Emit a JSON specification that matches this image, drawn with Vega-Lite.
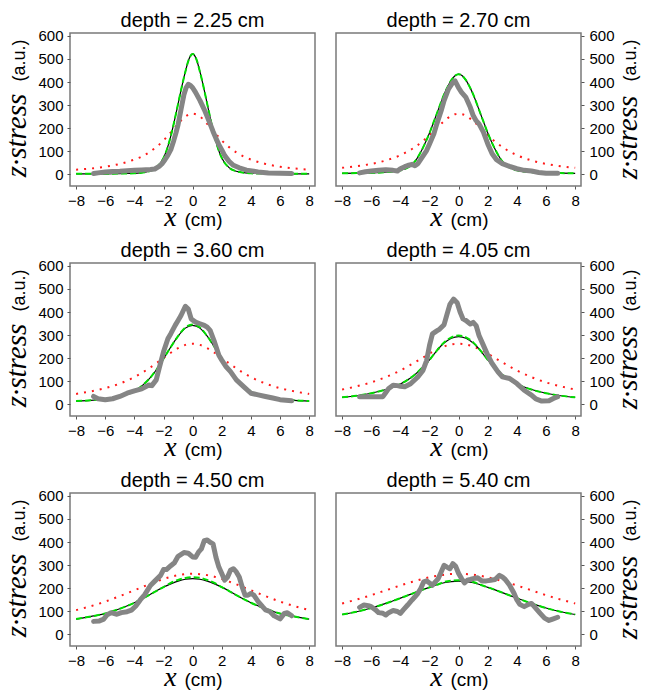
{
"$schema":"https://vega.github.io/schema/vega-lite/v6.json",
"padding":{"left":1,"top":10,"right":2,"bottom":2},
"background":"white",
"datasets":{
"fit":[
{"d":"2.25","x":-8,"k":1,"g":1,"r":19},{"d":"2.25","x":-7,"k":1,"g":1,"r":24},{"d":"2.25","x":-6,"k":1,"g":1,"r":32},{"d":"2.25","x":-5,"k":2,"g":2,"r":44},{"d":"2.25","x":-4,"k":3,"g":3,"r":63},{"d":"2.25","x":-3.5,"k":6,"g":6,"r":76},{"d":"2.25","x":-3,"k":12,"g":12,"r":94},{"d":"2.25","x":-2.5,"k":28,"g":28,"r":117},{"d":"2.25","x":-2,"k":70,"g":70,"r":146},{"d":"2.25","x":-1.75,"k":110,"g":110,"r":163},{"d":"2.25","x":-1.5,"k":165,"g":165,"r":181},{"d":"2.25","x":-1.25,"k":232,"g":232,"r":200},{"d":"2.25","x":-1,"k":305,"g":305,"r":218},{"d":"2.25","x":-0.75,"k":378,"g":378,"r":236},{"d":"2.25","x":-0.5,"k":445,"g":445,"r":250},{"d":"2.25","x":-0.25,"k":500,"g":500,"r":259},{"d":"2.25","x":0,"k":522,"g":522,"r":262},{"d":"2.25","x":0.25,"k":500,"g":500,"r":259},{"d":"2.25","x":0.5,"k":445,"g":445,"r":250},{"d":"2.25","x":0.75,"k":378,"g":378,"r":236},{"d":"2.25","x":1,"k":305,"g":305,"r":218},{"d":"2.25","x":1.25,"k":232,"g":232,"r":200},{"d":"2.25","x":1.5,"k":165,"g":165,"r":181},{"d":"2.25","x":1.75,"k":110,"g":110,"r":163},{"d":"2.25","x":2,"k":70,"g":70,"r":146},{"d":"2.25","x":2.5,"k":28,"g":28,"r":117},{"d":"2.25","x":3,"k":12,"g":12,"r":94},{"d":"2.25","x":3.5,"k":6,"g":6,"r":76},{"d":"2.25","x":4,"k":3,"g":3,"r":63},{"d":"2.25","x":5,"k":2,"g":2,"r":44},{"d":"2.25","x":6,"k":1,"g":1,"r":32},{"d":"2.25","x":7,"k":1,"g":1,"r":24},{"d":"2.25","x":8,"k":1,"g":1,"r":19},
{"d":"2.70","x":-8,"k":3,"g":3,"r":27},{"d":"2.70","x":-7,"k":4,"g":4,"r":34},{"d":"2.70","x":-6,"k":5,"g":5,"r":44},{"d":"2.70","x":-5,"k":8,"g":8,"r":59},{"d":"2.70","x":-4,"k":16,"g":16,"r":82},{"d":"2.70","x":-3.5,"k":28,"g":28,"r":98},{"d":"2.70","x":-3,"k":55,"g":55,"r":117},{"d":"2.70","x":-2.5,"k":108,"g":108,"r":141},{"d":"2.70","x":-2,"k":178,"g":178,"r":169},{"d":"2.70","x":-1.75,"k":220,"g":220,"r":184},{"d":"2.70","x":-1.5,"k":262,"g":262,"r":200},{"d":"2.70","x":-1.25,"k":305,"g":305,"r":216},{"d":"2.70","x":-1,"k":346,"g":346,"r":230},{"d":"2.70","x":-0.75,"k":380,"g":380,"r":243},{"d":"2.70","x":-0.5,"k":408,"g":408,"r":253},{"d":"2.70","x":-0.25,"k":427,"g":427,"r":260},{"d":"2.70","x":0,"k":434,"g":434,"r":262},{"d":"2.70","x":0.25,"k":427,"g":427,"r":260},{"d":"2.70","x":0.5,"k":408,"g":408,"r":253},{"d":"2.70","x":0.75,"k":380,"g":380,"r":243},{"d":"2.70","x":1,"k":346,"g":346,"r":230},{"d":"2.70","x":1.25,"k":305,"g":305,"r":216},{"d":"2.70","x":1.5,"k":262,"g":262,"r":200},{"d":"2.70","x":1.75,"k":220,"g":220,"r":184},{"d":"2.70","x":2,"k":178,"g":178,"r":169},{"d":"2.70","x":2.5,"k":108,"g":108,"r":141},{"d":"2.70","x":3,"k":55,"g":55,"r":117},{"d":"2.70","x":3.5,"k":28,"g":28,"r":98},{"d":"2.70","x":4,"k":16,"g":16,"r":82},{"d":"2.70","x":5,"k":8,"g":8,"r":59},{"d":"2.70","x":6,"k":5,"g":5,"r":44},{"d":"2.70","x":7,"k":4,"g":4,"r":34},{"d":"2.70","x":8,"k":3,"g":3,"r":27},
{"d":"3.60","x":-8,"k":13,"g":13,"r":44},{"d":"3.60","x":-7,"k":16,"g":16,"r":55},{"d":"3.60","x":-6,"k":22,"g":22,"r":69},{"d":"3.60","x":-5,"k":33,"g":33,"r":89},{"d":"3.60","x":-4,"k":56,"g":56,"r":117},{"d":"3.60","x":-3.5,"k":78,"g":78,"r":135},{"d":"3.60","x":-3,"k":108,"g":108,"r":155},{"d":"3.60","x":-2.5,"k":148,"g":148,"r":177},{"d":"3.60","x":-2,"k":197,"g":197,"r":200},{"d":"3.60","x":-1.5,"k":248,"g":248,"r":223},{"d":"3.60","x":-1,"k":295,"g":295,"r":243},{"d":"3.60","x":-0.5,"k":330,"g":333,"r":257},{"d":"3.60","x":0,"k":342,"g":346,"r":262},{"d":"3.60","x":0.5,"k":330,"g":333,"r":257},{"d":"3.60","x":1,"k":295,"g":295,"r":243},{"d":"3.60","x":1.5,"k":248,"g":248,"r":223},{"d":"3.60","x":2,"k":197,"g":197,"r":200},{"d":"3.60","x":2.5,"k":148,"g":148,"r":177},{"d":"3.60","x":3,"k":108,"g":108,"r":155},{"d":"3.60","x":3.5,"k":78,"g":78,"r":135},{"d":"3.60","x":4,"k":56,"g":56,"r":117},{"d":"3.60","x":5,"k":33,"g":33,"r":89},{"d":"3.60","x":6,"k":22,"g":22,"r":69},{"d":"3.60","x":7,"k":16,"g":16,"r":55},{"d":"3.60","x":8,"k":13,"g":13,"r":44},
{"d":"4.05","x":-8,"k":29,"g":29,"r":63},{"d":"4.05","x":-7,"k":36,"g":36,"r":77},{"d":"4.05","x":-6,"k":47,"g":47,"r":94},{"d":"4.05","x":-5,"k":63,"g":63,"r":117},{"d":"4.05","x":-4,"k":87,"g":87,"r":146},{"d":"4.05","x":-3.5,"k":105,"g":105,"r":163},{"d":"4.05","x":-3,"k":128,"g":128,"r":181},{"d":"4.05","x":-2.5,"k":158,"g":158,"r":200},{"d":"4.05","x":-2,"k":192,"g":192,"r":219},{"d":"4.05","x":-1.5,"k":232,"g":232,"r":236},{"d":"4.05","x":-1,"k":265,"g":268,"r":250},{"d":"4.05","x":-0.5,"k":286,"g":290,"r":259},{"d":"4.05","x":0,"k":293,"g":298,"r":262},{"d":"4.05","x":0.5,"k":286,"g":290,"r":259},{"d":"4.05","x":1,"k":265,"g":268,"r":250},{"d":"4.05","x":1.5,"k":232,"g":232,"r":236},{"d":"4.05","x":2,"k":192,"g":192,"r":219},{"d":"4.05","x":2.5,"k":158,"g":158,"r":200},{"d":"4.05","x":3,"k":128,"g":128,"r":181},{"d":"4.05","x":3.5,"k":105,"g":105,"r":163},{"d":"4.05","x":4,"k":87,"g":87,"r":146},{"d":"4.05","x":5,"k":63,"g":63,"r":117},{"d":"4.05","x":6,"k":47,"g":47,"r":94},{"d":"4.05","x":7,"k":36,"g":36,"r":77},{"d":"4.05","x":8,"k":29,"g":29,"r":63},
{"d":"4.50","x":-8,"k":65,"g":65,"r":104},{"d":"4.50","x":-7,"k":76,"g":76,"r":121},{"d":"4.50","x":-6,"k":89,"g":89,"r":141},{"d":"4.50","x":-5,"k":110,"g":110,"r":165},{"d":"4.50","x":-4,"k":136,"g":136,"r":190},{"d":"4.50","x":-3.5,"k":152,"g":152,"r":203},{"d":"4.50","x":-3,"k":169,"g":169,"r":216},{"d":"4.50","x":-2.5,"k":187,"g":187,"r":228},{"d":"4.50","x":-2,"k":204,"g":204,"r":239},{"d":"4.50","x":-1.5,"k":218,"g":222,"r":249},{"d":"4.50","x":-1,"k":230,"g":235,"r":256},{"d":"4.50","x":-0.5,"k":238,"g":244,"r":260},{"d":"4.50","x":0,"k":241,"g":247,"r":262},{"d":"4.50","x":0.5,"k":238,"g":244,"r":260},{"d":"4.50","x":1,"k":230,"g":235,"r":256},{"d":"4.50","x":1.5,"k":218,"g":222,"r":249},{"d":"4.50","x":2,"k":204,"g":204,"r":239},{"d":"4.50","x":2.5,"k":187,"g":187,"r":228},{"d":"4.50","x":3,"k":169,"g":169,"r":216},{"d":"4.50","x":3.5,"k":152,"g":152,"r":203},{"d":"4.50","x":4,"k":136,"g":136,"r":190},{"d":"4.50","x":5,"k":110,"g":110,"r":165},{"d":"4.50","x":6,"k":89,"g":89,"r":141},{"d":"4.50","x":7,"k":76,"g":76,"r":121},{"d":"4.50","x":8,"k":65,"g":65,"r":104},
{"d":"5.40","x":-8,"k":85,"g":85,"r":133},{"d":"5.40","x":-7,"k":97,"g":97,"r":150},{"d":"5.40","x":-6,"k":113,"g":113,"r":169},{"d":"5.40","x":-5,"k":133,"g":133,"r":190},{"d":"5.40","x":-4,"k":156,"g":156,"r":211},{"d":"5.40","x":-3.5,"k":168,"g":168,"r":221},{"d":"5.40","x":-3,"k":180,"g":180,"r":230},{"d":"5.40","x":-2.5,"k":192,"g":192,"r":239},{"d":"5.40","x":-2,"k":203,"g":203,"r":247},{"d":"5.40","x":-1.5,"k":214,"g":214,"r":253},{"d":"5.40","x":-1,"k":223,"g":226,"r":258},{"d":"5.40","x":-0.5,"k":228,"g":232,"r":261},{"d":"5.40","x":0,"k":230,"g":234,"r":262},{"d":"5.40","x":0.5,"k":228,"g":232,"r":261},{"d":"5.40","x":1,"k":223,"g":226,"r":258},{"d":"5.40","x":1.5,"k":214,"g":214,"r":253},{"d":"5.40","x":2,"k":203,"g":203,"r":247},{"d":"5.40","x":2.5,"k":192,"g":192,"r":239},{"d":"5.40","x":3,"k":180,"g":180,"r":230},{"d":"5.40","x":3.5,"k":168,"g":168,"r":221},{"d":"5.40","x":4,"k":156,"g":156,"r":211},{"d":"5.40","x":5,"k":133,"g":133,"r":190},{"d":"5.40","x":6,"k":113,"g":113,"r":169},{"d":"5.40","x":7,"k":97,"g":97,"r":150},{"d":"5.40","x":8,"k":85,"g":85,"r":133}
],
"meas":[
{"d":"2.25","x":-6.8,"y":2},{"d":"2.25","x":-6.5,"y":5},{"d":"2.25","x":-6,"y":9},{"d":"2.25","x":-5.5,"y":11},{"d":"2.25","x":-5,"y":12},{"d":"2.25","x":-4.5,"y":14},{"d":"2.25","x":-4,"y":16},{"d":"2.25","x":-3.5,"y":18},{"d":"2.25","x":-3.2,"y":19},{"d":"2.25","x":-2.9,"y":20},{"d":"2.25","x":-2.6,"y":22},{"d":"2.25","x":-2.3,"y":33},{"d":"2.25","x":-2.1,"y":45},{"d":"2.25","x":-1.9,"y":62},{"d":"2.25","x":-1.7,"y":82},{"d":"2.25","x":-1.5,"y":106},{"d":"2.25","x":-1.3,"y":145},{"d":"2.25","x":-1.15,"y":178},{"d":"2.25","x":-1,"y":215},{"d":"2.25","x":-0.8,"y":280},{"d":"2.25","x":-0.6,"y":345},{"d":"2.25","x":-0.45,"y":375},{"d":"2.25","x":-0.3,"y":390},{"d":"2.25","x":-0.15,"y":385},{"d":"2.25","x":0,"y":375},{"d":"2.25","x":0.2,"y":355},{"d":"2.25","x":0.5,"y":320},{"d":"2.25","x":0.8,"y":280},{"d":"2.25","x":1,"y":250},{"d":"2.25","x":1.2,"y":218},{"d":"2.25","x":1.4,"y":185},{"d":"2.25","x":1.6,"y":155},{"d":"2.25","x":1.8,"y":128},{"d":"2.25","x":2,"y":105},{"d":"2.25","x":2.2,"y":80},{"d":"2.25","x":2.5,"y":55},{"d":"2.25","x":2.8,"y":38},{"d":"2.25","x":3.2,"y":27},{"d":"2.25","x":3.7,"y":17},{"d":"2.25","x":4.5,"y":9},{"d":"2.25","x":5.2,"y":5},{"d":"2.25","x":6,"y":3},{"d":"2.25","x":6.8,"y":2},
{"d":"2.70","x":-6.8,"y":5},{"d":"2.70","x":-6.4,"y":10},{"d":"2.70","x":-6,"y":13},{"d":"2.70","x":-5.5,"y":16},{"d":"2.70","x":-5,"y":19},{"d":"2.70","x":-4.5,"y":16},{"d":"2.70","x":-4.2,"y":13},{"d":"2.70","x":-4,"y":23},{"d":"2.70","x":-3.7,"y":32},{"d":"2.70","x":-3.5,"y":37},{"d":"2.70","x":-3.2,"y":42},{"d":"2.70","x":-3,"y":36},{"d":"2.70","x":-2.8,"y":45},{"d":"2.70","x":-2.5,"y":74},{"d":"2.70","x":-2.2,"y":102},{"d":"2.70","x":-2,"y":131},{"d":"2.70","x":-1.7,"y":175},{"d":"2.70","x":-1.5,"y":218},{"d":"2.70","x":-1.2,"y":275},{"d":"2.70","x":-1,"y":319},{"d":"2.70","x":-0.7,"y":369},{"d":"2.70","x":-0.4,"y":398},{"d":"2.70","x":-0.25,"y":405},{"d":"2.70","x":0,"y":374},{"d":"2.70","x":0.2,"y":355},{"d":"2.70","x":0.5,"y":333},{"d":"2.70","x":0.8,"y":290},{"d":"2.70","x":1,"y":254},{"d":"2.70","x":1.2,"y":232},{"d":"2.70","x":1.4,"y":218},{"d":"2.70","x":1.7,"y":182},{"d":"2.70","x":2,"y":131},{"d":"2.70","x":2.3,"y":88},{"d":"2.70","x":2.6,"y":62},{"d":"2.70","x":3,"y":45},{"d":"2.70","x":3.5,"y":33},{"d":"2.70","x":4,"y":23},{"d":"2.70","x":4.5,"y":16},{"d":"2.70","x":5,"y":13},{"d":"2.70","x":5.5,"y":7},{"d":"2.70","x":6,"y":3},{"d":"2.70","x":6.8,"y":3},
{"d":"3.60","x":-6.8,"y":33},{"d":"3.60","x":-6.5,"y":23},{"d":"3.60","x":-6,"y":19},{"d":"3.60","x":-5.5,"y":23},{"d":"3.60","x":-5,"y":33},{"d":"3.60","x":-4.5,"y":47},{"d":"3.60","x":-4,"y":57},{"d":"3.60","x":-3.5,"y":66},{"d":"3.60","x":-3,"y":83},{"d":"3.60","x":-2.8,"y":80},{"d":"3.60","x":-2.5,"y":105},{"d":"3.60","x":-2.3,"y":155},{"d":"3.60","x":-2,"y":227},{"d":"3.60","x":-1.7,"y":284},{"d":"3.60","x":-1.5,"y":306},{"d":"3.60","x":-1.2,"y":342},{"d":"3.60","x":-1,"y":363},{"d":"3.60","x":-0.8,"y":385},{"d":"3.60","x":-0.5,"y":425},{"d":"3.60","x":-0.3,"y":413},{"d":"3.60","x":-0.1,"y":370},{"d":"3.60","x":0.2,"y":356},{"d":"3.60","x":0.5,"y":349},{"d":"3.60","x":0.8,"y":342},{"d":"3.60","x":1,"y":334},{"d":"3.60","x":1.2,"y":320},{"d":"3.60","x":1.5,"y":270},{"d":"3.60","x":1.8,"y":212},{"d":"3.60","x":2,"y":191},{"d":"3.60","x":2.3,"y":162},{"d":"3.60","x":2.6,"y":141},{"d":"3.60","x":3,"y":105},{"d":"3.60","x":3.5,"y":76},{"d":"3.60","x":4,"y":47},{"d":"3.60","x":4.5,"y":40},{"d":"3.60","x":5,"y":33},{"d":"3.60","x":5.5,"y":26},{"d":"3.60","x":6,"y":19},{"d":"3.60","x":6.8,"y":14},
{"d":"4.05","x":-6.8,"y":32},{"d":"4.05","x":-6,"y":32},{"d":"4.05","x":-5.2,"y":32},{"d":"4.05","x":-5,"y":50},{"d":"4.05","x":-4.8,"y":68},{"d":"4.05","x":-4.5,"y":82},{"d":"4.05","x":-4.2,"y":80},{"d":"4.05","x":-4,"y":77},{"d":"4.05","x":-3.7,"y":75},{"d":"4.05","x":-3.3,"y":88},{"d":"4.05","x":-2.8,"y":118},{"d":"4.05","x":-2.45,"y":146},{"d":"4.05","x":-2.2,"y":189},{"d":"4.05","x":-2,"y":255},{"d":"4.05","x":-1.8,"y":305},{"d":"4.05","x":-1.5,"y":318},{"d":"4.05","x":-1.3,"y":326},{"d":"4.05","x":-1,"y":345},{"d":"4.05","x":-0.8,"y":390},{"d":"4.05","x":-0.6,"y":433},{"d":"4.05","x":-0.35,"y":456},{"d":"4.05","x":-0.1,"y":440},{"d":"4.05","x":0.1,"y":400},{"d":"4.05","x":0.3,"y":370},{"d":"4.05","x":0.5,"y":363},{"d":"4.05","x":0.8,"y":348},{"d":"4.05","x":1,"y":355},{"d":"4.05","x":1.2,"y":341},{"d":"4.05","x":1.4,"y":298},{"d":"4.05","x":1.7,"y":255},{"d":"4.05","x":2,"y":212},{"d":"4.05","x":2.3,"y":176},{"d":"4.05","x":2.7,"y":140},{"d":"4.05","x":3,"y":118},{"d":"4.05","x":3.5,"y":111},{"d":"4.05","x":4,"y":89},{"d":"4.05","x":4.5,"y":60},{"d":"4.05","x":5,"y":39},{"d":"4.05","x":5.3,"y":22},{"d":"4.05","x":5.7,"y":13},{"d":"4.05","x":6.2,"y":14},{"d":"4.05","x":6.5,"y":24},{"d":"4.05","x":6.8,"y":32},
{"d":"4.50","x":-6.8,"y":55},{"d":"4.50","x":-6.4,"y":57},{"d":"4.50","x":-6.1,"y":65},{"d":"4.50","x":-5.9,"y":82},{"d":"4.50","x":-5.6,"y":93},{"d":"4.50","x":-5.2,"y":86},{"d":"4.50","x":-4.9,"y":93},{"d":"4.50","x":-4.5,"y":97},{"d":"4.50","x":-4.2,"y":104},{"d":"4.50","x":-3.9,"y":122},{"d":"4.50","x":-3.6,"y":148},{"d":"4.50","x":-3.3,"y":170},{"d":"4.50","x":-2.9,"y":211},{"d":"4.50","x":-2.6,"y":230},{"d":"4.50","x":-2.2,"y":255},{"d":"4.50","x":-2,"y":280},{"d":"4.50","x":-1.8,"y":280},{"d":"4.50","x":-1.5,"y":297},{"d":"4.50","x":-1.25,"y":310},{"d":"4.50","x":-1,"y":338},{"d":"4.50","x":-0.6,"y":354},{"d":"4.50","x":-0.3,"y":351},{"d":"4.50","x":0,"y":335},{"d":"4.50","x":0.2,"y":334},{"d":"4.50","x":0.4,"y":356},{"d":"4.50","x":0.6,"y":370},{"d":"4.50","x":0.8,"y":406},{"d":"4.50","x":1,"y":409},{"d":"4.50","x":1.2,"y":399},{"d":"4.50","x":1.4,"y":392},{"d":"4.50","x":1.6,"y":334},{"d":"4.50","x":1.8,"y":291},{"d":"4.50","x":2,"y":263},{"d":"4.50","x":2.2,"y":234},{"d":"4.50","x":2.4,"y":248},{"d":"4.50","x":2.6,"y":277},{"d":"4.50","x":2.8,"y":284},{"d":"4.50","x":3,"y":270},{"d":"4.50","x":3.2,"y":248},{"d":"4.50","x":3.4,"y":205},{"d":"4.50","x":3.6,"y":169},{"d":"4.50","x":3.8,"y":169},{"d":"4.50","x":4,"y":176},{"d":"4.50","x":4.2,"y":169},{"d":"4.50","x":4.5,"y":141},{"d":"4.50","x":4.8,"y":119},{"d":"4.50","x":5,"y":105},{"d":"4.50","x":5.3,"y":98},{"d":"4.50","x":5.6,"y":79},{"d":"4.50","x":6,"y":66},{"d":"4.50","x":6.3,"y":90},{"d":"4.50","x":6.5,"y":93},{"d":"4.50","x":6.8,"y":79},
{"d":"5.40","x":-6.8,"y":116},{"d":"5.40","x":-6.5,"y":126},{"d":"5.40","x":-6.2,"y":123},{"d":"5.40","x":-6,"y":119},{"d":"5.40","x":-5.7,"y":105},{"d":"5.40","x":-5.5,"y":93},{"d":"5.40","x":-5.2,"y":90},{"d":"5.40","x":-5,"y":83},{"d":"5.40","x":-4.8,"y":93},{"d":"5.40","x":-4.5,"y":102},{"d":"5.40","x":-4.2,"y":98},{"d":"5.40","x":-4,"y":90},{"d":"5.40","x":-3.8,"y":105},{"d":"5.40","x":-3.5,"y":126},{"d":"5.40","x":-3.2,"y":148},{"d":"5.40","x":-3,"y":162},{"d":"5.40","x":-2.8,"y":177},{"d":"5.40","x":-2.6,"y":198},{"d":"5.40","x":-2.4,"y":227},{"d":"5.40","x":-2.2,"y":231},{"d":"5.40","x":-2,"y":222},{"d":"5.40","x":-1.8,"y":212},{"d":"5.40","x":-1.6,"y":227},{"d":"5.40","x":-1.4,"y":241},{"d":"5.40","x":-1.2,"y":270},{"d":"5.40","x":-1,"y":299},{"d":"5.40","x":-0.8,"y":291},{"d":"5.40","x":-0.6,"y":284},{"d":"5.40","x":-0.4,"y":306},{"d":"5.40","x":-0.2,"y":294},{"d":"5.40","x":0,"y":263},{"d":"5.40","x":0.2,"y":241},{"d":"5.40","x":0.4,"y":222},{"d":"5.40","x":0.6,"y":234},{"d":"5.40","x":0.8,"y":237},{"d":"5.40","x":1,"y":241},{"d":"5.40","x":1.3,"y":245},{"d":"5.40","x":1.6,"y":231},{"d":"5.40","x":1.9,"y":231},{"d":"5.40","x":2.2,"y":234},{"d":"5.40","x":2.5,"y":237},{"d":"5.40","x":2.8,"y":255},{"d":"5.40","x":3,"y":248},{"d":"5.40","x":3.2,"y":237},{"d":"5.40","x":3.5,"y":212},{"d":"5.40","x":3.8,"y":177},{"d":"5.40","x":4,"y":148},{"d":"5.40","x":4.2,"y":129},{"d":"5.40","x":4.5,"y":119},{"d":"5.40","x":4.8,"y":129},{"d":"5.40","x":5,"y":133},{"d":"5.40","x":5.3,"y":112},{"d":"5.40","x":5.6,"y":90},{"d":"5.40","x":5.9,"y":69},{"d":"5.40","x":6.2,"y":59},{"d":"5.40","x":6.5,"y":66},{"d":"5.40","x":6.8,"y":73}
]
},
"columns":2,
"spacing":{"row":77,"column":21},
"bounds":"flush",
"concat":[
{"width":245,"height":153,"title":"depth = 2.25 cm","resolve":{"axis":{"x":"independent","y":"independent"}},"layer":[
{"data":{"name":"fit"},"transform":[{"filter":"datum.d=='2.25'"}],"mark":{"type":"line","color":"#ff1a1a","strokeWidth":2,"strokeDash":[2,6],"interpolate":"monotone"},"encoding":{"x":{"field":"x","type":"quantitative","scale":{"domain":[-8.42,8.4],"nice":false,"zero":false},"axis":{"orient":"bottom","labels":false,"ticks":false,"domain":false,"title":"(cm)","titleFontSize":19,"titleX":133,"titleY":39,"titleAlign":"center","titleBaseline":"alphabetic"}},"y":{"field":"r","type":"quantitative","scale":{"domain":[-52,613],"nice":false,"zero":false},"axis":{"orient":"left","labels":false,"ticks":false,"domain":false,"title":"(a.u.)","titleFontSize":18,"titleAngle":270,"titleX":-46,"titleY":27,"titleAlign":"center","titleBaseline":"alphabetic"}}}},
{"data":{"name":"fit"},"transform":[{"filter":"datum.d=='2.25'"}],"mark":{"type":"line","color":"#000000","strokeWidth":1.2,"interpolate":"monotone"},"encoding":{"x":{"field":"x","type":"quantitative","scale":{"domain":[-8.42,8.4],"nice":false,"zero":false},"axis":null},"y":{"field":"k","type":"quantitative","scale":{"domain":[-52,613],"nice":false,"zero":false},"axis":null}}},
{"data":{"name":"fit"},"transform":[{"filter":"datum.d=='2.25'"}],"mark":{"type":"line","color":"#00dd00","strokeWidth":2,"strokeDash":[6,3],"interpolate":"monotone"},"encoding":{"x":{"field":"x","type":"quantitative","scale":{"domain":[-8.42,8.4],"nice":false,"zero":false},"axis":null},"y":{"field":"g","type":"quantitative","scale":{"domain":[-52,613],"nice":false,"zero":false},"axis":null}}},
{"data":{"name":"meas"},"transform":[{"filter":"datum.d=='2.25'"}],"mark":{"type":"line","color":"#858585","strokeWidth":5,"strokeCap":"round","strokeJoin":"round"},"encoding":{"x":{"field":"x","type":"quantitative","scale":{"domain":[-8.42,8.4],"nice":false,"zero":false},"axis":{"orient":"bottom","values":[-8,-6,-4,-2,0,2,4,6,8],"title":"x","titleFont":"Liberation Serif","titleFontStyle":"italic","titleFontSize":28,"titleX":100,"titleY":39,"titleAlign":"center","titleBaseline":"alphabetic"}},"y":{"field":"y","type":"quantitative","scale":{"domain":[-52,613],"nice":false,"zero":false},"axis":{"orient":"left","values":[0,100,200,300,400,500,600],"title":"z∙stress","titleFont":"Liberation Serif","titleFontStyle":"italic","titleFontSize":29,"titleAngle":270,"titleX":-45,"titleY":102,"titleAlign":"center","titleBaseline":"alphabetic"}}}}
]},
{"width":245,"height":153,"title":"depth = 2.70 cm","resolve":{"axis":{"x":"independent","y":"independent"}},"layer":[
{"data":{"name":"fit"},"transform":[{"filter":"datum.d=='2.70'"}],"mark":{"type":"line","color":"#ff1a1a","strokeWidth":2,"strokeDash":[2,6],"interpolate":"monotone"},"encoding":{"x":{"field":"x","type":"quantitative","scale":{"domain":[-8.42,8.4],"nice":false,"zero":false},"axis":{"orient":"bottom","labels":false,"ticks":false,"domain":false,"title":"(cm)","titleFontSize":19,"titleX":133,"titleY":39,"titleAlign":"center","titleBaseline":"alphabetic"}},"y":{"field":"r","type":"quantitative","scale":{"domain":[-52,613],"nice":false,"zero":false},"axis":{"orient":"right","labels":false,"ticks":false,"domain":false,"title":"(a.u.)","titleFontSize":18,"titleAngle":270,"titleX":54,"titleY":27,"titleAlign":"center","titleBaseline":"alphabetic"}}}},
{"data":{"name":"fit"},"transform":[{"filter":"datum.d=='2.70'"}],"mark":{"type":"line","color":"#000000","strokeWidth":1.2,"interpolate":"monotone"},"encoding":{"x":{"field":"x","type":"quantitative","scale":{"domain":[-8.42,8.4],"nice":false,"zero":false},"axis":null},"y":{"field":"k","type":"quantitative","scale":{"domain":[-52,613],"nice":false,"zero":false},"axis":null}}},
{"data":{"name":"fit"},"transform":[{"filter":"datum.d=='2.70'"}],"mark":{"type":"line","color":"#00dd00","strokeWidth":2,"strokeDash":[6,3],"interpolate":"monotone"},"encoding":{"x":{"field":"x","type":"quantitative","scale":{"domain":[-8.42,8.4],"nice":false,"zero":false},"axis":null},"y":{"field":"g","type":"quantitative","scale":{"domain":[-52,613],"nice":false,"zero":false},"axis":null}}},
{"data":{"name":"meas"},"transform":[{"filter":"datum.d=='2.70'"}],"mark":{"type":"line","color":"#858585","strokeWidth":5,"strokeCap":"round","strokeJoin":"round"},"encoding":{"x":{"field":"x","type":"quantitative","scale":{"domain":[-8.42,8.4],"nice":false,"zero":false},"axis":{"orient":"bottom","values":[-8,-6,-4,-2,0,2,4,6,8],"title":"x","titleFont":"Liberation Serif","titleFontStyle":"italic","titleFontSize":28,"titleX":100,"titleY":39,"titleAlign":"center","titleBaseline":"alphabetic"}},"y":{"field":"y","type":"quantitative","scale":{"domain":[-52,613],"nice":false,"zero":false},"axis":{"orient":"right","values":[0,100,200,300,400,500,600],"labelPadding":5,"title":"z∙stress","titleFont":"Liberation Serif","titleFontStyle":"italic","titleFontSize":29,"titleAngle":270,"titleX":55,"titleY":104,"titleAlign":"center","titleBaseline":"alphabetic"}}}}
]},
{"width":245,"height":153,"title":"depth = 3.60 cm","resolve":{"axis":{"x":"independent","y":"independent"}},"layer":[
{"data":{"name":"fit"},"transform":[{"filter":"datum.d=='3.60'"}],"mark":{"type":"line","color":"#ff1a1a","strokeWidth":2,"strokeDash":[2,6],"interpolate":"monotone"},"encoding":{"x":{"field":"x","type":"quantitative","scale":{"domain":[-8.42,8.4],"nice":false,"zero":false},"axis":{"orient":"bottom","labels":false,"ticks":false,"domain":false,"title":"(cm)","titleFontSize":19,"titleX":133,"titleY":39,"titleAlign":"center","titleBaseline":"alphabetic"}},"y":{"field":"r","type":"quantitative","scale":{"domain":[-52,613],"nice":false,"zero":false},"axis":{"orient":"left","labels":false,"ticks":false,"domain":false,"title":"(a.u.)","titleFontSize":18,"titleAngle":270,"titleX":-46,"titleY":27,"titleAlign":"center","titleBaseline":"alphabetic"}}}},
{"data":{"name":"fit"},"transform":[{"filter":"datum.d=='3.60'"}],"mark":{"type":"line","color":"#000000","strokeWidth":1.2,"interpolate":"monotone"},"encoding":{"x":{"field":"x","type":"quantitative","scale":{"domain":[-8.42,8.4],"nice":false,"zero":false},"axis":null},"y":{"field":"k","type":"quantitative","scale":{"domain":[-52,613],"nice":false,"zero":false},"axis":null}}},
{"data":{"name":"fit"},"transform":[{"filter":"datum.d=='3.60'"}],"mark":{"type":"line","color":"#00dd00","strokeWidth":2,"strokeDash":[6,3],"interpolate":"monotone"},"encoding":{"x":{"field":"x","type":"quantitative","scale":{"domain":[-8.42,8.4],"nice":false,"zero":false},"axis":null},"y":{"field":"g","type":"quantitative","scale":{"domain":[-52,613],"nice":false,"zero":false},"axis":null}}},
{"data":{"name":"meas"},"transform":[{"filter":"datum.d=='3.60'"}],"mark":{"type":"line","color":"#858585","strokeWidth":5,"strokeCap":"round","strokeJoin":"round"},"encoding":{"x":{"field":"x","type":"quantitative","scale":{"domain":[-8.42,8.4],"nice":false,"zero":false},"axis":{"orient":"bottom","values":[-8,-6,-4,-2,0,2,4,6,8],"title":"x","titleFont":"Liberation Serif","titleFontStyle":"italic","titleFontSize":28,"titleX":100,"titleY":39,"titleAlign":"center","titleBaseline":"alphabetic"}},"y":{"field":"y","type":"quantitative","scale":{"domain":[-52,613],"nice":false,"zero":false},"axis":{"orient":"left","values":[0,100,200,300,400,500,600],"title":"z∙stress","titleFont":"Liberation Serif","titleFontStyle":"italic","titleFontSize":29,"titleAngle":270,"titleX":-45,"titleY":102,"titleAlign":"center","titleBaseline":"alphabetic"}}}}
]},
{"width":245,"height":153,"title":"depth = 4.05 cm","resolve":{"axis":{"x":"independent","y":"independent"}},"layer":[
{"data":{"name":"fit"},"transform":[{"filter":"datum.d=='4.05'"}],"mark":{"type":"line","color":"#ff1a1a","strokeWidth":2,"strokeDash":[2,6],"interpolate":"monotone"},"encoding":{"x":{"field":"x","type":"quantitative","scale":{"domain":[-8.42,8.4],"nice":false,"zero":false},"axis":{"orient":"bottom","labels":false,"ticks":false,"domain":false,"title":"(cm)","titleFontSize":19,"titleX":133,"titleY":39,"titleAlign":"center","titleBaseline":"alphabetic"}},"y":{"field":"r","type":"quantitative","scale":{"domain":[-52,613],"nice":false,"zero":false},"axis":{"orient":"right","labels":false,"ticks":false,"domain":false,"title":"(a.u.)","titleFontSize":18,"titleAngle":270,"titleX":54,"titleY":27,"titleAlign":"center","titleBaseline":"alphabetic"}}}},
{"data":{"name":"fit"},"transform":[{"filter":"datum.d=='4.05'"}],"mark":{"type":"line","color":"#000000","strokeWidth":1.2,"interpolate":"monotone"},"encoding":{"x":{"field":"x","type":"quantitative","scale":{"domain":[-8.42,8.4],"nice":false,"zero":false},"axis":null},"y":{"field":"k","type":"quantitative","scale":{"domain":[-52,613],"nice":false,"zero":false},"axis":null}}},
{"data":{"name":"fit"},"transform":[{"filter":"datum.d=='4.05'"}],"mark":{"type":"line","color":"#00dd00","strokeWidth":2,"strokeDash":[6,3],"interpolate":"monotone"},"encoding":{"x":{"field":"x","type":"quantitative","scale":{"domain":[-8.42,8.4],"nice":false,"zero":false},"axis":null},"y":{"field":"g","type":"quantitative","scale":{"domain":[-52,613],"nice":false,"zero":false},"axis":null}}},
{"data":{"name":"meas"},"transform":[{"filter":"datum.d=='4.05'"}],"mark":{"type":"line","color":"#858585","strokeWidth":5,"strokeCap":"round","strokeJoin":"round"},"encoding":{"x":{"field":"x","type":"quantitative","scale":{"domain":[-8.42,8.4],"nice":false,"zero":false},"axis":{"orient":"bottom","values":[-8,-6,-4,-2,0,2,4,6,8],"title":"x","titleFont":"Liberation Serif","titleFontStyle":"italic","titleFontSize":28,"titleX":100,"titleY":39,"titleAlign":"center","titleBaseline":"alphabetic"}},"y":{"field":"y","type":"quantitative","scale":{"domain":[-52,613],"nice":false,"zero":false},"axis":{"orient":"right","values":[0,100,200,300,400,500,600],"labelPadding":5,"title":"z∙stress","titleFont":"Liberation Serif","titleFontStyle":"italic","titleFontSize":29,"titleAngle":270,"titleX":55,"titleY":104,"titleAlign":"center","titleBaseline":"alphabetic"}}}}
]},
{"width":245,"height":153,"title":"depth = 4.50 cm","resolve":{"axis":{"x":"independent","y":"independent"}},"layer":[
{"data":{"name":"fit"},"transform":[{"filter":"datum.d=='4.50'"}],"mark":{"type":"line","color":"#ff1a1a","strokeWidth":2,"strokeDash":[2,6],"interpolate":"monotone"},"encoding":{"x":{"field":"x","type":"quantitative","scale":{"domain":[-8.42,8.4],"nice":false,"zero":false},"axis":{"orient":"bottom","labels":false,"ticks":false,"domain":false,"title":"(cm)","titleFontSize":19,"titleX":133,"titleY":39,"titleAlign":"center","titleBaseline":"alphabetic"}},"y":{"field":"r","type":"quantitative","scale":{"domain":[-52,613],"nice":false,"zero":false},"axis":{"orient":"left","labels":false,"ticks":false,"domain":false,"title":"(a.u.)","titleFontSize":18,"titleAngle":270,"titleX":-46,"titleY":27,"titleAlign":"center","titleBaseline":"alphabetic"}}}},
{"data":{"name":"fit"},"transform":[{"filter":"datum.d=='4.50'"}],"mark":{"type":"line","color":"#000000","strokeWidth":1.2,"interpolate":"monotone"},"encoding":{"x":{"field":"x","type":"quantitative","scale":{"domain":[-8.42,8.4],"nice":false,"zero":false},"axis":null},"y":{"field":"k","type":"quantitative","scale":{"domain":[-52,613],"nice":false,"zero":false},"axis":null}}},
{"data":{"name":"fit"},"transform":[{"filter":"datum.d=='4.50'"}],"mark":{"type":"line","color":"#00dd00","strokeWidth":2,"strokeDash":[6,3],"interpolate":"monotone"},"encoding":{"x":{"field":"x","type":"quantitative","scale":{"domain":[-8.42,8.4],"nice":false,"zero":false},"axis":null},"y":{"field":"g","type":"quantitative","scale":{"domain":[-52,613],"nice":false,"zero":false},"axis":null}}},
{"data":{"name":"meas"},"transform":[{"filter":"datum.d=='4.50'"}],"mark":{"type":"line","color":"#858585","strokeWidth":5,"strokeCap":"round","strokeJoin":"round"},"encoding":{"x":{"field":"x","type":"quantitative","scale":{"domain":[-8.42,8.4],"nice":false,"zero":false},"axis":{"orient":"bottom","values":[-8,-6,-4,-2,0,2,4,6,8],"title":"x","titleFont":"Liberation Serif","titleFontStyle":"italic","titleFontSize":28,"titleX":100,"titleY":39,"titleAlign":"center","titleBaseline":"alphabetic"}},"y":{"field":"y","type":"quantitative","scale":{"domain":[-52,613],"nice":false,"zero":false},"axis":{"orient":"left","values":[0,100,200,300,400,500,600],"title":"z∙stress","titleFont":"Liberation Serif","titleFontStyle":"italic","titleFontSize":29,"titleAngle":270,"titleX":-45,"titleY":102,"titleAlign":"center","titleBaseline":"alphabetic"}}}}
]},
{"width":245,"height":153,"title":"depth = 5.40 cm","resolve":{"axis":{"x":"independent","y":"independent"}},"layer":[
{"data":{"name":"fit"},"transform":[{"filter":"datum.d=='5.40'"}],"mark":{"type":"line","color":"#ff1a1a","strokeWidth":2,"strokeDash":[2,6],"interpolate":"monotone"},"encoding":{"x":{"field":"x","type":"quantitative","scale":{"domain":[-8.42,8.4],"nice":false,"zero":false},"axis":{"orient":"bottom","labels":false,"ticks":false,"domain":false,"title":"(cm)","titleFontSize":19,"titleX":133,"titleY":39,"titleAlign":"center","titleBaseline":"alphabetic"}},"y":{"field":"r","type":"quantitative","scale":{"domain":[-52,613],"nice":false,"zero":false},"axis":{"orient":"right","labels":false,"ticks":false,"domain":false,"title":"(a.u.)","titleFontSize":18,"titleAngle":270,"titleX":54,"titleY":27,"titleAlign":"center","titleBaseline":"alphabetic"}}}},
{"data":{"name":"fit"},"transform":[{"filter":"datum.d=='5.40'"}],"mark":{"type":"line","color":"#000000","strokeWidth":1.2,"interpolate":"monotone"},"encoding":{"x":{"field":"x","type":"quantitative","scale":{"domain":[-8.42,8.4],"nice":false,"zero":false},"axis":null},"y":{"field":"k","type":"quantitative","scale":{"domain":[-52,613],"nice":false,"zero":false},"axis":null}}},
{"data":{"name":"fit"},"transform":[{"filter":"datum.d=='5.40'"}],"mark":{"type":"line","color":"#00dd00","strokeWidth":2,"strokeDash":[6,3],"interpolate":"monotone"},"encoding":{"x":{"field":"x","type":"quantitative","scale":{"domain":[-8.42,8.4],"nice":false,"zero":false},"axis":null},"y":{"field":"g","type":"quantitative","scale":{"domain":[-52,613],"nice":false,"zero":false},"axis":null}}},
{"data":{"name":"meas"},"transform":[{"filter":"datum.d=='5.40'"}],"mark":{"type":"line","color":"#858585","strokeWidth":5,"strokeCap":"round","strokeJoin":"round"},"encoding":{"x":{"field":"x","type":"quantitative","scale":{"domain":[-8.42,8.4],"nice":false,"zero":false},"axis":{"orient":"bottom","values":[-8,-6,-4,-2,0,2,4,6,8],"title":"x","titleFont":"Liberation Serif","titleFontStyle":"italic","titleFontSize":28,"titleX":100,"titleY":39,"titleAlign":"center","titleBaseline":"alphabetic"}},"y":{"field":"y","type":"quantitative","scale":{"domain":[-52,613],"nice":false,"zero":false},"axis":{"orient":"right","values":[0,100,200,300,400,500,600],"labelPadding":5,"title":"z∙stress","titleFont":"Liberation Serif","titleFontStyle":"italic","titleFontSize":29,"titleAngle":270,"titleX":55,"titleY":104,"titleAlign":"center","titleBaseline":"alphabetic"}}}}
]}
],
"config":{
"font":"Liberation Sans",
"view":{"stroke":"#7a7a7a","strokeWidth":1.5},
"axis":{"grid":false,"domain":false,"tickColor":"#555555","tickSize":3,"labelPadding":4,"labelFont":"Liberation Sans","labelFontSize":15,"labelColor":"#000000","labelFlush":false,"labelOverlap":false,"titleColor":"#000000","titleFont":"Liberation Sans","titleFontWeight":"normal"},
"title":{"font":"Liberation Sans","fontSize":20,"fontWeight":"normal","anchor":"middle","offset":-2,"baseline":"alphabetic","color":"#000000"}
}
}
